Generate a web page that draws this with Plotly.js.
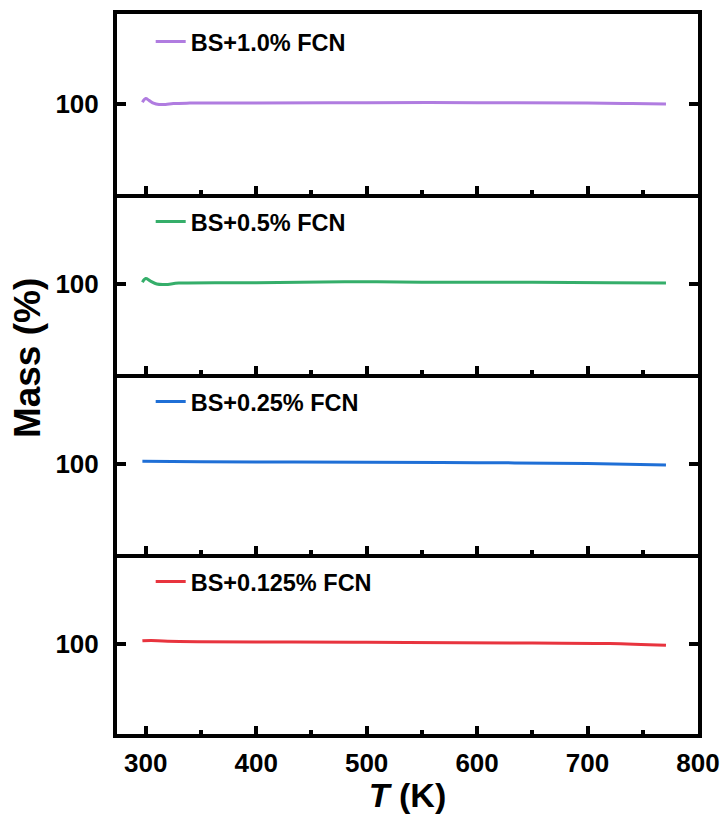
<!DOCTYPE html>
<html><head><meta charset="utf-8">
<script src="https://cdn.plot.ly/plotly-3.0.1.min.js"></script>
<style>html,body{margin:0;padding:0;background:#fff}</style>
</head><body><div id="chart" style="width:724px;height:814px"></div>
<script>
// Temperature (K)
const T_purple = [297,300,303,307,312,318,325,340,400,500,600,700,740,771];
const M_purple = [100.2,100.6,100.4,100.1,99.95,99.95,100.05,100.1,100.12,100.15,100.15,100.1,100.05,100.0];
const T_green = [297,300,304,310,318,330,400,480,550,650,720,771];
const M_green = [100.2,100.6,100.35,100.0,99.95,100.1,100.15,100.25,100.2,100.2,100.15,100.1];
const T_blue = [297,350,500,600,700,771];
const M_blue = [100.3,100.25,100.2,100.15,100.05,99.9];
const T_red = [297,305,320,500,650,720,771];
const M_red = [100.35,100.4,100.3,100.2,100.1,100.05,99.85];
const seriesNames = ['BS+1.0% FCN','BS+0.5% FCN','BS+0.25% FCN','BS+0.125% FCN'];
const colors = ['#B07CE0','#35AE6A','#1F6FD6','#E8343E'];
const yTickVals = [100];
const yTickText = ['100'];
const xTickVals = [300,400,500,600,700,800];
const xMinorVals = [350,450,550,650,750];

const Ts = [T_purple,T_green,T_blue,T_red];
const Ms = [M_purple,M_green,M_blue,M_red];
const fam = 'Liberation Sans, Arial, sans-serif';

const traces = [];
const layout = {
  width:724, height:814,
  margin:{l:117,r:26,t:14,b:80},
  paper_bgcolor:'#fff', plot_bgcolor:'#fff',
  showlegend:true,
  font:{family:fam, color:'#000'},
  annotations:[{
    text:'<b>Mass (%)</b>', xref:'paper', yref:'paper', x:-0.155, y:0.522,
    xanchor:'center', yanchor:'middle',
    textangle:-90, showarrow:false, font:{family:fam,size:37,color:'#000'}
  }]
};
for (let i=0;i<4;i++){
  const n = i===0?'':String(i+1);
  traces.push({
    x:Ts[i], y:Ms[i], type:'scatter', mode:'lines', name:seriesNames[i],
    line:{color:colors[i], width:3, shape:'spline'},
    xaxis:'x'+n, yaxis:'y'+n, legend:'legend'+n
  });
  const top = 1 - i*0.25, bot = 1-(i+1)*0.25;
  layout['legend'+n] = {
    x:0.058, y:top-0.008, xanchor:'left', yanchor:'top', bgcolor:'rgba(0,0,0,0)',
    font:{family:fam,size:23.5,color:'#000',weight:'bold'},
    itemwidth:30, tracegroupgap:0
  };
  const isBottom = i===3;
  layout['xaxis'+n] = {
    anchor:'y'+n, domain:[0,1], range:[274,800],
    matches: i===0?undefined:'x',
    tickvals:xTickVals, showticklabels:isBottom,
    ticks:'inside', ticklen:8, tickwidth:4, tickcolor:'#000',
    minor:{tickvals:xMinorVals, ticks:'inside', ticklen:4, tickwidth:4, tickcolor:'#000'},
    showline:true, linecolor:'#000', linewidth:4, mirror: i===0,
    showgrid:false, zeroline:false, ticklabelstandoff:3,
    tickfont:{family:fam,size:26,color:'#000',weight:'bold'},
    title: isBottom ? {text:'<b><i>T</i> (K)</b>', font:{family:fam,size:34,color:'#000'}, standoff:8} : undefined
  };
  layout['yaxis'+n] = {
    anchor:'x'+n, domain:[bot,top], range:[90,110],
    tickvals:yTickVals, ticktext:yTickText,
    ticks:'inside', ticklen:9, tickwidth:4, tickcolor:'#000',
    showline:true, linecolor:'#000', linewidth:4, mirror:'ticks',
    showgrid:false, zeroline:false, ticklabelstandoff:9,
    tickfont:{family:fam,size:26,color:'#000',weight:'bold'}
  };
}
Plotly.newPlot('chart', traces, layout, {displayModeBar:false, staticPlot:true});
</script></body></html>
